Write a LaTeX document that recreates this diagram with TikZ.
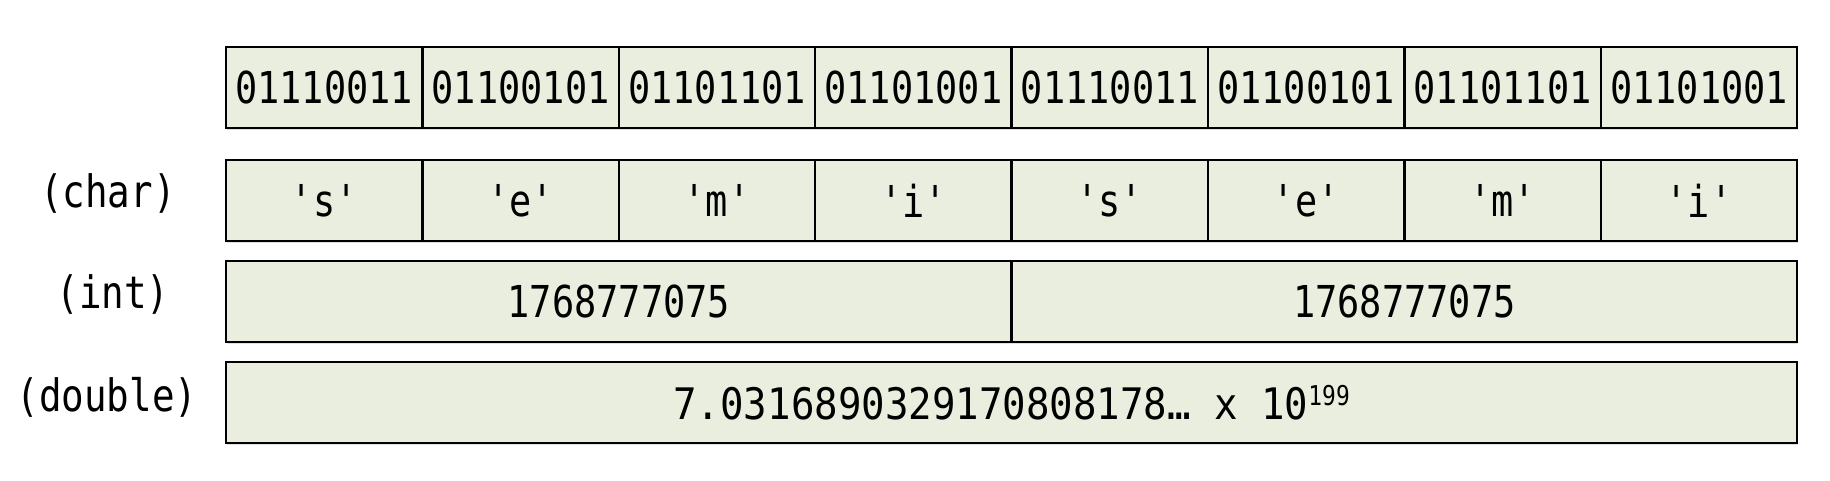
\documentclass[tikz,border=0pt]{standalone}
\usepackage{fontspec}
\setmonofont{DejaVu Sans Mono}
\newfontfamily\cellfont{DejaVu Sans Mono}[FakeStretch=0.84]
\newfontfamily\doublefont{DejaVu Sans Mono}[FakeStretch=0.9]
\usepackage{xcolor}
\usepackage{tikz}
\usetikzlibrary{positioning,shadows}
\definecolor{cellfill}{RGB}{234,238,222}

\begin{document}
\begin{tikzpicture}[
    cell/.style={rectangle, draw, line width=1.3pt, fill=cellfill, inner sep=0pt, outer sep=0pt, minimum width=3.928cm, minimum height=1.62cm, font=\cellfont\fontsize{25}{28}\selectfont, drop shadow={shadow xshift=0.02cm, shadow yshift=-0.05cm, opacity=0.25}},
    typename/.style={font=\cellfont\fontsize{25.4}{28}\selectfont, inner sep=0pt},
]
\useasboundingbox (0,0) rectangle (36.6,-9.62);

% Raw bytes
\node[cell] at (6.484,-1.75) (b1) {01110011};
\node[cell, right=0pt of b1] (b2) {01100101};
\node[cell, right=0pt of b2] (b3) {01101101};
\node[cell, right=0pt of b3] (b4) {01101001};
\node[cell, right=0pt of b4] (b5) {01110011};
\node[cell, right=0pt of b5] (b6) {01100101};
\node[cell, right=0pt of b6] (b7) {01101101};
\node[cell, right=0pt of b7] (b8) {01101001};

% Read as char
\node[cell, below=0.64cm of b1] (c1) {'s'};
\node[cell, right=0pt of c1] (c2) {'e'};
\node[cell, right=0pt of c2] (c3) {'m'};
\node[cell, right=0pt of c3] (c4) {'i'};
\node[cell, right=0pt of c4] (c5) {'s'};
\node[cell, right=0pt of c5] (c6) {'e'};
\node[cell, right=0pt of c6] (c7) {'m'};
\node[cell, right=0pt of c7] (c8) {'i'};

% Read as int
\node[cell, minimum width=15.712cm, below right=0.4cm and 0cm of c1.south west] (i1) {1768777075};
\node[cell, minimum width=15.712cm, right=0pt of i1] (i2) {1768777075};

% Read as double
\node[cell, minimum width=31.424cm, below right=0.4cm and 0cm of i1.south west, font=\doublefont\fontsize{24.7}{28}\selectfont] (d1) {7.0316890329170808178… x 10\raisebox{8pt}{\cellfont\fontsize{15.5}{17}\selectfont 199}};

% Type names
\node[typename, left=2.36cm of c1.west, anchor=center, yshift=0.14cm] (tchar) {(char)};
\node[typename, left=2.26cm of i1.west, anchor=center, yshift=0.15cm] (tint) {(int)};
\node[typename, left=2.38cm of d1.west, anchor=center, yshift=0.11cm] (tdouble) {(double)};

\end{tikzpicture}
\end{document}
